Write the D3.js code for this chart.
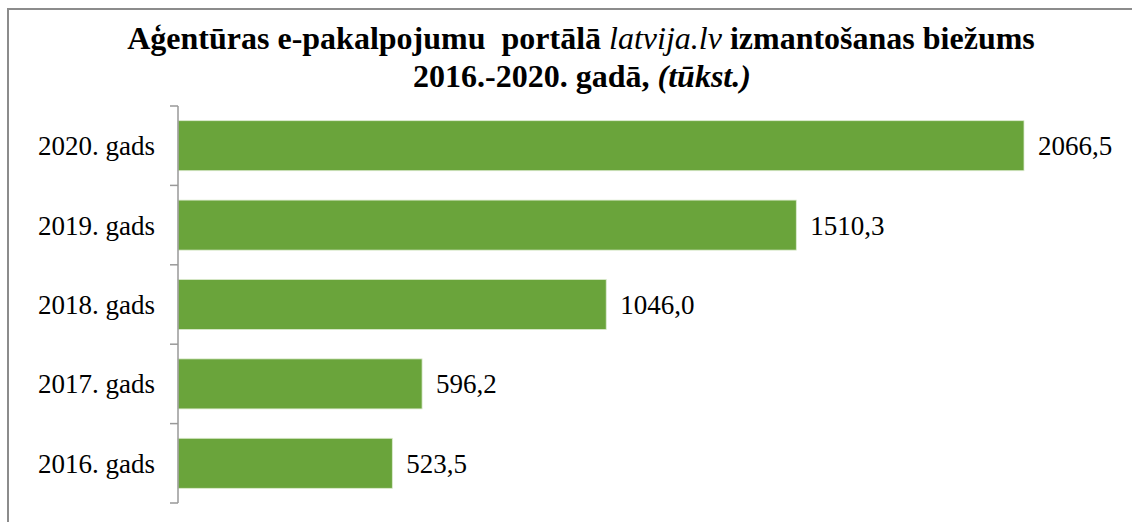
<!DOCTYPE html>
<html>
<head>
<meta charset="utf-8">
<script src="https://cdn.jsdelivr.net/npm/d3@7"></script>
<style>
  body { margin: 0; background: #fff; }
  svg text { font-family: "Liberation Serif", "Times New Roman", serif; }
</style>
</head>
<body>
<script>
const years = ["2020. gads", "2019. gads", "2018. gads", "2017. gads", "2016. gads"];
const values = [2066.5, 1510.3, 1046.0, 596.2, 523.5];
const labels = ["2066,5", "1510,3", "1046,0", "596,2", "523,5"];

const W = 1132, H = 522;
const svg = d3.select("body").append("svg")
    .attr("width", W)
    .attr("height", H)
    .attr("font-family", "Liberation Serif, Times New Roman, serif");

// outer frame (cropped on right / bottom like the source)
svg.append("rect")
    .attr("x", 8).attr("y", 9)
    .attr("width", W + 20).attr("height", H + 20)
    .attr("fill", "#fff")
    .attr("stroke", "#8c8c8c")
    .attr("stroke-width", 2);

// title
const title = svg.append("text")
    .attr("text-anchor", "middle")
    .attr("font-size", 32)
    .attr("font-weight", "bold")
    .attr("fill", "#000");
const l1 = title.append("tspan").attr("x", 581).attr("y", 49);
l1.append("tspan").text("Aģentūras e-pakalpojumu\u00a0 portālā ");
l1.append("tspan").attr("font-style", "italic").attr("font-weight", "normal").text("latvija.lv");
l1.append("tspan").text(" izmantošanas biežums");
const l2 = title.append("tspan").attr("x", 582).attr("y", 87);
l2.append("tspan").text("2016.-2020. gadā, ");
l2.append("tspan").attr("font-style", "italic").text("(tūkst.)");

// scales
const x = d3.scaleLinear()
    .domain([0, d3.max(values)])
    .range([178, 1024]);
const y = d3.scaleBand()
    .domain(years)
    .range([106, 503])
    .paddingInner(0.37)
    .paddingOuter(0.185);

// bars
svg.selectAll("rect.bar")
    .data(years)
    .join("rect")
    .attr("class", "bar")
    .attr("x", x(0))
    .attr("y", d => y(d))
    .attr("width", (d, i) => x(values[i]) - x(0))
    .attr("height", y.bandwidth())
    .attr("fill", "#6aa43b")
    .attr("stroke", "#dcebcf")
    .attr("stroke-width", 0.8);

// value labels
svg.selectAll("text.val")
    .data(years)
    .join("text")
    .attr("class", "val")
    .attr("x", (d, i) => x(values[i]) + 14)
    .attr("y", d => y(d) + y.bandwidth() / 2)
    .attr("dy", "0.35em")
    .attr("font-size", 27)
    .attr("fill", "#000")
    .text((d, i) => labels[i]);

// category axis
svg.append("line")
    .attr("x1", x(0)).attr("x2", x(0))
    .attr("y1", 106).attr("y2", 503)
    .attr("stroke", "#999")
    .attr("stroke-width", 1.5);

const step = y.step();
const tickY = d3.range(years.length + 1).map(i => 106 + i * step);
svg.selectAll("line.tick")
    .data(tickY)
    .join("line")
    .attr("class", "tick")
    .attr("x1", x(0) - 8).attr("x2", x(0))
    .attr("y1", d => d).attr("y2", d => d)
    .attr("stroke", "#999")
    .attr("stroke-width", 1.5);

svg.selectAll("text.cat")
    .data(years)
    .join("text")
    .attr("class", "cat")
    .attr("x", 155)
    .attr("y", d => y(d) + y.bandwidth() / 2)
    .attr("dy", "0.35em")
    .attr("text-anchor", "end")
    .attr("font-size", 27)
    .attr("fill", "#000")
    .text(d => d);
</script>
</body>
</html>
